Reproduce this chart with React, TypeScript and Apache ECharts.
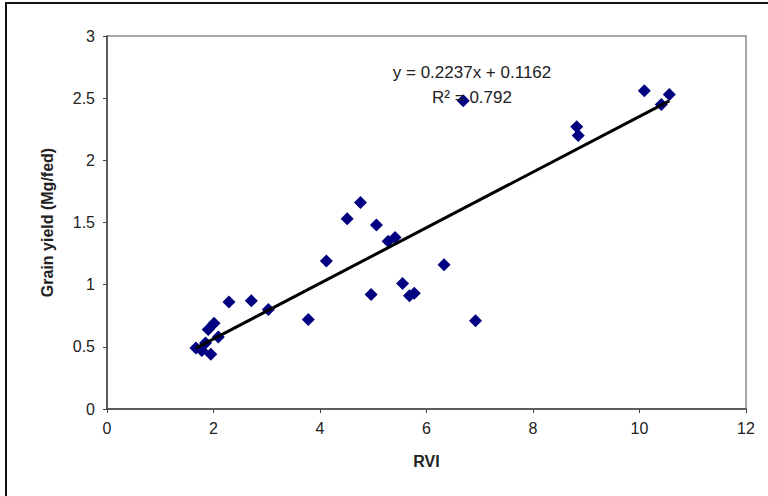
import React, { useEffect, useRef } from "react";
import * as echarts from "echarts";

const rviValues = [1.67, 1.78, 1.85, 1.95, 1.9, 2.01, 2.09, 2.29, 2.71, 3.03, 3.78, 4.12, 4.51, 4.76, 5.06, 5.28, 5.41, 4.96, 5.55, 5.68, 5.77, 6.33, 6.69, 6.92, 8.82, 8.85, 10.09, 10.41, 10.56];
const yieldValues = [0.49, 0.47, 0.53, 0.44, 0.64, 0.69, 0.58, 0.86, 0.87, 0.8, 0.72, 1.19, 1.53, 1.66, 1.48, 1.35, 1.38, 0.92, 1.01, 0.91, 0.93, 1.16, 2.48, 0.71, 2.27, 2.2, 2.56, 2.45, 2.53];
const slope = 0.2237;
const intercept = 0.1162;
const rSquared = 0.792;
const trendRange = [1.67, 10.56];

export default function App() {
  const ref = useRef<HTMLDivElement>(null);
  useEffect(() => {
    if (!ref.current) return;
    const chart = echarts.init(ref.current, null, { renderer: "svg" });
    const points = rviValues.map((x, i) => [x, yieldValues[i]]);
    const trend = trendRange.map((x) => [x, slope * x + intercept]);
    const font = "Liberation Sans, Arial, sans-serif";
    chart.setOption({
      animation: false,
      backgroundColor: "#ffffff",
      grid: { left: 107, right: 22, top: 36, bottom: 87, show: true, borderColor: "#8a8a8a", borderWidth: 1.5, backgroundColor: "transparent" },
      xAxis: {
        type: "value", min: 0, max: 12, interval: 2,
        name: "RVI", nameLocation: "middle", nameGap: 44,
        nameTextStyle: { fontFamily: font, fontWeight: "bold", fontSize: 16, color: "#222" },
        axisLine: { show: true, onZero: false, lineStyle: { color: "#444", width: 1.5 } },
        axisTick: { show: true, inside: false, length: 4, lineStyle: { color: "#444" } },
        axisLabel: { fontFamily: font, fontSize: 16, color: "#222", margin: 11 },
        splitLine: { show: false },
      },
      yAxis: {
        type: "value", min: 0, max: 3, interval: 0.5,
        name: "Grain yield (Mg/fed)", nameLocation: "middle", nameGap: 52, nameRotate: 90,
        nameTextStyle: { fontFamily: font, fontWeight: "bold", fontSize: 16, color: "#222" },
        axisLine: { show: true, onZero: false, lineStyle: { color: "#444", width: 1.5 } },
        axisTick: { show: true, inside: false, length: 4, lineStyle: { color: "#444" } },
        axisLabel: { fontFamily: font, fontSize: 16, color: "#222", margin: 12 },
        splitLine: { show: false },
      },
      series: [
        {
          type: "scatter", data: points, symbol: "diamond", symbolSize: 13,
          itemStyle: { color: "#000080", opacity: 1 }, z: 2,
        },
        {
          type: "line", data: trend, showSymbol: false, symbol: "none",
          lineStyle: { color: "#000", width: 3 }, z: 3,
        },
      ],
      graphic: [
        { type: "rect", shape: { x: 6, y: 3, width: 900, height: 700 }, style: { fill: "none", stroke: "#111", lineWidth: 2 }, silent: true },
        { type: "text", x: 472, y: 72, style: { text: `y = ${slope}x + ${intercept}`, font: `17px ${font}`, fill: "#222", align: "center", verticalAlign: "middle" }, z: 10 },
        { type: "text", x: 472, y: 97, style: { text: `R² = ${rSquared}`, font: `17px ${font}`, fill: "#222", align: "center", verticalAlign: "middle" }, z: 10 },
      ],
    });
    return () => chart.dispose();
  }, []);
  return <div ref={ref} style={{ position: "fixed", left: 0, top: 0, width: 768, height: 496 }} />;
}
